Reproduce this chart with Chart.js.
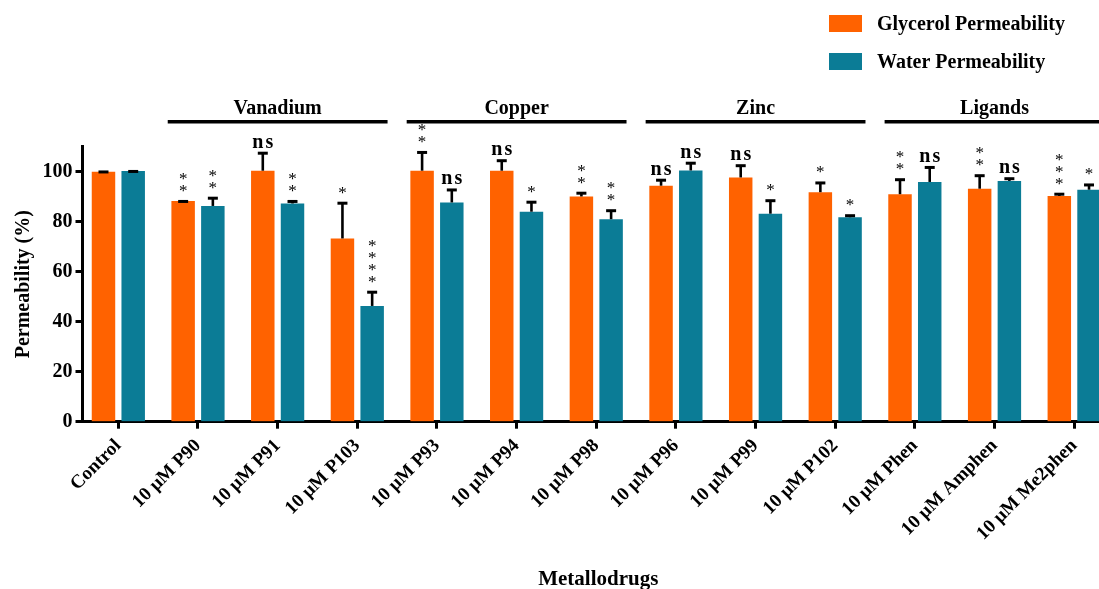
<!DOCTYPE html>
<html>
<head>
<meta charset="utf-8">
<script src="https://cdn.jsdelivr.net/npm/chart.js@4.4.1/dist/chart.umd.min.js"></script>
<style>
html,body{margin:0;padding:0;background:#fff;overflow:hidden;}
canvas{display:block;}
</style>
</head>
<body>
<canvas id="c" width="1114" height="589"></canvas>
<script>
// ---- data ----
const CATEGORIES = ['Control','10 μM P90','10 μM P91','10 μM P103','10 μM P93','10 μM P94','10 μM P98',
  '10 μM P96','10 μM P99','10 μM P102','10 μM Phen','10 μM Amphen','10 μM Me2phen'];
const GLYCEROL    = [100, 88.3, 100.4, 73.3, 100.4, 100.4, 90.1, 94.4, 97.7, 91.8, 91.0, 93.2, 90.3];
const GLYCEROL_SD = [0.5, 0.4, 7.6, 14.7, 7.9, 4.6, 1.9, 2.8, 5.3, 4.3, 6.4, 5.8, 1.3];
const WATER       = [100.3, 86.3, 87.3, 46.3, 87.7, 84.0, 81.0, 100.5, 83.2, 81.8, 95.9, 96.3, 92.8];
const WATER_SD    = [0.4, 3.7, 1.4, 6.1, 5.6, 4.4, 4.0, 3.5, 5.8, 1.2, 6.4, 1.5, 2.5];
const GLYCEROL_SIG = ['', '**', 'ns', '*', '**', 'ns', '**', 'ns', 'ns', '*', '**', '**', '***'];
const WATER_SIG    = ['', '**', '**', '****', 'ns', '*', '**', 'ns', '*', '*', 'ns', 'ns', '*'];
const GROUP_NAMES = ['Vanadium', 'Copper', 'Zinc', 'Ligands'];
const GROUP_FIRST = [1, 4, 7, 10];
const GROUP_LAST  = [3, 6, 9, 12];
const Y_TICKS = [0, 20, 40, 60, 80, 100];
const SERIES_NAMES = ['Glycerol Permeability', 'Water Permeability'];
const COLORS = ['#FF6200', '#0B7C96'];

const SERIF = '"Liberation Serif", "Times New Roman", serif';

const overlay = {
  id: 'overlay',
  afterDatasetsDraw(chart) {
    const ctx = chart.ctx;
    const ys = chart.scales.y;
    chart.data.datasets.forEach((ds, di) => {
      const meta = chart.getDatasetMeta(di);
      meta.data.forEach((bar, i) => {
        const v = ds.data[i].y;
        const topPx = ys.getPixelForValue(v + ds.sd[i]);
        const basePx = ys.getPixelForValue(v);
        ctx.save();
        ctx.strokeStyle = '#000';
        ctx.lineWidth = 2.6;
        ctx.beginPath();
        ctx.moveTo(bar.x, basePx);
        ctx.lineTo(bar.x, topPx + 1.5);
        ctx.stroke();
        ctx.lineWidth = 3;
        ctx.beginPath();
        ctx.moveTo(bar.x - 5, topPx + 1.5);
        ctx.lineTo(bar.x + 5, topPx + 1.5);
        ctx.stroke();
        // significance
        const sig = ds.sig[i];
        ctx.fillStyle = '#000';
        ctx.textAlign = 'center';
        ctx.textBaseline = 'alphabetic';
        if (sig === 'ns') {
          ctx.font = 'bold 20px ' + SERIF;
          ctx.letterSpacing = '2px';
          ctx.fillText('ns', bar.x + 1, topPx - 4);
          ctx.letterSpacing = '0px';
        } else if (sig) {
          ctx.font = '17px ' + SERIF;
          for (let k = 0; k < sig.length; k++) {
            ctx.fillText('*', bar.x, topPx - 4 - k * 12);
          }
        }
        ctx.restore();
      });
    });
  },
  afterDraw(chart) {
    const ctx = chart.ctx;
    const xs = chart.scales.x;
    const top = chart.chartArea.top;
    ctx.save();
    ctx.fillStyle = '#000';
    ctx.strokeStyle = '#000';
    // group headers
    GROUP_NAMES.forEach((name, g) => {
      const x1 = xs.getPixelForValue(GROUP_FIRST[g] - 0.38);
      const x2 = xs.getPixelForValue(GROUP_LAST[g] + 0.38);
      ctx.lineWidth = 3.5;
      ctx.beginPath();
      ctx.moveTo(x1, top - 25);
      ctx.lineTo(x2, top - 25);
      ctx.stroke();
      ctx.font = 'bold 20px ' + SERIF;
      ctx.textAlign = 'center';
      ctx.textBaseline = 'middle';
      ctx.fillText(name, (x1 + x2) / 2, top - 38);
    });
    // legend
    chart.data.datasets.forEach((ds, di) => {
      const bx = 829, by = 15 + di * 38;
      ctx.fillStyle = ds.backgroundColor;
      ctx.fillRect(bx, by, 33, 17);
      ctx.fillStyle = '#000';
      ctx.font = 'bold 20px ' + SERIF;
      ctx.textAlign = 'left';
      ctx.textBaseline = 'middle';
      ctx.fillText(ds.label, 877, by + 9.5);
    });
    ctx.restore();
  }
};

Chart.defaults.color = '#000';
Chart.defaults.font.family = SERIF;

new Chart(document.getElementById('c'), {
  type: 'bar',
  data: {
    datasets: [
      { label: SERIES_NAMES[0], data: GLYCEROL.map((v, i) => ({x: i, y: v})), sd: GLYCEROL_SD, sig: GLYCEROL_SIG,
        backgroundColor: COLORS[0], borderWidth: 0 },
      { label: SERIES_NAMES[1], data: WATER.map((v, i) => ({x: i, y: v})), sd: WATER_SD, sig: WATER_SIG,
        backgroundColor: COLORS[1], borderWidth: 0 }
    ]
  },
  options: {
    responsive: false,
    animation: false,
    events: [],
    categoryPercentage: 0.746,
    barPercentage: 0.79,
    layout: { padding: { top: 146.7, left: 0, right: 0, bottom: 0 } },
    plugins: { legend: { display: false }, tooltip: { enabled: false } },
    scales: {
      x: {
        type: 'linear',
        min: -0.45,
        max: 12.5,
        offset: false,
        afterBuildTicks: s => { s.ticks = CATEGORIES.map((_, i) => ({ value: i })); },
        afterFit: s => { s.height = 167.3; s.paddingLeft = 0; s.paddingRight = 0; },
        border: { display: true, color: '#000', width: 3 },
        grid: { display: true, offset: false, drawOnChartArea: false, drawTicks: true, tickLength: 7, tickWidth: 3, tickColor: '#000' },
        ticks: {
          autoSkip: false, minRotation: 45, maxRotation: 45, padding: 6,
          font: { family: SERIF, size: 19, weight: 'bold' },
          callback: v => CATEGORIES[v]
        },
        title: { display: true, text: 'Metallodrugs', font: { family: SERIF, size: 21, weight: 'bold' }, padding: { top: 0, bottom: -3 } }
      },
      y: {
        min: 0, max: 110,
        afterBuildTicks: s => { s.ticks = Y_TICKS.map(v => ({ value: v })); },
        afterFit: s => { s.width = 82.5; },
        border: { display: true, color: '#000', width: 3 },
        grid: { display: true, drawOnChartArea: false, drawTicks: true, tickLength: 7, tickWidth: 3, tickColor: '#000' },
        ticks: { padding: 3, font: { family: SERIF, size: 20, weight: 'bold' } },
        title: { display: true, text: 'Permeability (%)', font: { family: SERIF, size: 20, weight: 'bold' }, padding: { top: 12, bottom: 0 } }
      }
    }
  },
  plugins: [overlay]
});
</script>
</body>
</html>
